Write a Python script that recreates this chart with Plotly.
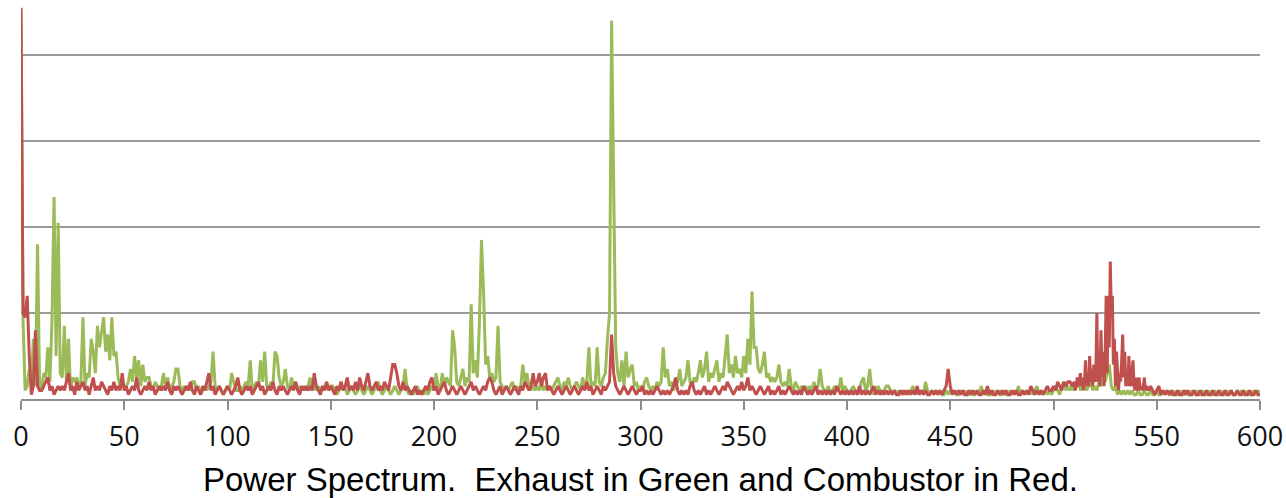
import plotly.graph_objects as go

# Exhaust power spectrum, one value per Hz from 0 to 600 (grid line = 20 units)
exhaust_000 = [
    90, 18, 2, 3, 7, 4, 14, 3, 36, 3,
    2, 6, 5, 12, 4, 18, 47, 10, 41, 6,
    5, 17, 4, 14, 2, 5, 4, 5, 3, 4,
    19, 3, 6, 5, 14, 11, 6, 17, 12, 16,
    19, 11, 15, 9, 19, 10, 11, 5, 3, 4,
    2, 3, 4, 7, 4, 10, 5, 9, 3, 8,
    4, 5, 5, 3, 2, 4, 3, 2, 3, 6,
    3, 5, 2, 3, 4, 7, 7, 3, 2, 3,
    2, 3, 2, 4, 4, 2, 3, 1, 2, 3,
    2, 3, 4, 11, 3, 2, 3, 2, 1, 2,
]
exhaust_100 = [
    3, 2, 6, 4, 2, 2, 3, 2, 3, 4,
    3, 9, 2, 3, 4, 3, 9, 4, 11, 3,
    2, 4, 3, 11, 10, 5, 3, 4, 7, 3,
    2, 5, 3, 4, 2, 3, 2, 3, 2, 3,
    5, 2, 3, 2, 3, 2, 3, 2, 4, 2,
    3, 3, 2, 1, 2, 4, 2, 3, 1, 2,
    3, 2, 1, 2, 3, 2, 1, 2, 3, 2,
    1, 2, 3, 4, 2, 1, 2, 3, 2, 1,
    2, 3, 2, 1, 2, 3, 7, 2, 1, 2,
    1, 2, 3, 1, 2, 1, 2, 1, 2, 3,
]
exhaust_200 = [
    2, 6, 3, 2, 6, 3, 5, 4, 3, 16,
    12, 4, 3, 5, 7, 3, 5, 4, 22, 6,
    9, 5, 18, 37, 25, 8, 10, 5, 6, 4,
    5, 17, 4, 3, 2, 3, 2, 3, 4, 2,
    3, 2, 3, 8, 4, 6, 3, 2, 3, 2,
    3, 2, 4, 2, 3, 2, 3, 2, 3, 4,
    5, 3, 2, 4, 3, 5, 3, 2, 3, 4,
    3, 2, 5, 3, 4, 12, 3, 4, 3, 12,
    4, 3, 5, 6, 14, 20, 88, 49, 12, 6,
    4, 9, 3, 11, 5, 7, 8, 3, 4, 2,
]
exhaust_300 = [
    3, 2, 4, 5, 3, 2, 3, 2, 4, 3,
    4, 12, 5, 7, 3, 4, 2, 3, 4, 7,
    3, 4, 5, 9, 4, 3, 5, 4, 6, 9,
    5, 7, 11, 4, 6, 5, 7, 9, 4, 6,
    5, 11, 15, 6, 8, 5, 10, 6, 7, 5,
    10, 6, 14, 8, 25, 12, 12, 7, 6, 8,
    11, 5, 6, 4, 5, 4, 5, 8, 4, 3,
    4, 3, 7, 3, 2, 4, 3, 2, 3, 2,
    3, 2, 3, 2, 4, 2, 3, 7, 3, 2,
    2, 3, 1, 2, 3, 2, 2, 5, 2, 3,
]
exhaust_400 = [
    2, 1, 2, 3, 2, 1, 2, 4, 5, 2,
    3, 7, 2, 1, 2, 3, 2, 1, 2, 3,
    3, 2, 1, 2, 1, 2, 1, 2, 1, 2,
    1, 2, 3, 1, 2, 1, 2, 1, 4, 2,
    1, 2, 1, 2, 1, 2, 1, 1, 2, 1,
    2, 1, 2, 1, 1, 2, 1, 2, 1, 1,
    2, 1, 1, 2, 1, 3, 1, 2, 1, 1,
    1, 2, 1, 2, 1, 1, 2, 1, 1, 2,
    1, 2, 1, 3, 1, 2, 1, 2, 1, 2,
    1, 2, 3, 1, 2, 1, 2, 1, 2, 1,
]
exhaust_500 = [
    2, 3, 2, 1, 3, 4, 2, 3, 2, 3,
    2, 3, 4, 2, 3, 4, 2, 3, 4, 2,
    3, 2, 4, 3, 5, 4, 6, 8, 3, 2,
    3, 1, 2, 1, 2, 1, 2, 1, 2, 1,
    1, 2, 1, 1, 2, 1, 1, 2, 1, 1,
    2, 1, 1, 2, 1, 2, 1, 1, 2, 1,
    1, 2, 1, 1, 2, 1, 1, 2, 1, 2,
    1, 1, 2, 1, 1, 2, 1, 1, 2, 1,
    1, 2, 1, 1, 2, 1, 2, 1, 1, 2,
    1, 2, 1, 1, 2, 1, 1, 2, 1, 2,
    1,
]

# Combustor power spectrum: 1 Hz steps, with 0.5 Hz steps through the 510-545 Hz band
combustor_000 = [
    91, 20, 19, 24, 10, 1, 3, 16, 3, 2,
    2, 3, 4, 5, 2, 3, 1, 2, 3, 2,
    3, 2, 4, 6, 2, 3, 1, 4, 2, 3,
    4, 2, 3, 1, 3, 5, 2, 3, 2, 4,
    3, 2, 1, 3, 2, 4, 2, 3, 2, 6,
    2, 3, 1, 2, 3, 2, 5, 2, 1, 2,
    3, 2, 4, 2, 3, 1, 2, 3, 2, 3,
    2, 4, 2, 1, 3, 2, 3, 2, 1, 2,
    3, 2, 4, 2, 1, 3, 2, 1, 3, 2,
    4, 6, 2, 3, 1, 2, 3, 2, 1, 2,
]
combustor_100 = [
    3, 2, 1, 2, 3, 5, 2, 1, 2, 3,
    2, 3, 1, 2, 3, 4, 2, 3, 1, 2,
    3, 2, 4, 2, 1, 3, 2, 3, 2, 1,
    2, 3, 2, 4, 2, 1, 3, 2, 3, 2,
    3, 2, 6, 3, 2, 1, 3, 2, 4, 2,
    3, 2, 1, 3, 2, 4, 2, 3, 5, 2,
    3, 2, 4, 2, 5, 3, 2, 4, 6, 3,
    2, 3, 4, 2, 3, 2, 4, 3, 2, 5,
    8, 8, 6, 3, 2, 4, 2, 3, 2, 1,
    2, 3, 1, 2, 1, 2, 3, 2, 4, 5,
]
combustor_200 = [
    2, 3, 1, 2, 3, 4, 2, 1, 2, 3,
    2, 1, 2, 3, 2, 1, 2, 3, 4, 2,
    3, 2, 1, 2, 3, 2, 4, 5, 4, 2,
    1, 2, 3, 1, 2, 3, 2, 1, 2, 3,
    2, 1, 3, 2, 4, 3, 2, 3, 6, 3,
    4, 6, 3, 5, 6, 2, 3, 2, 1, 2,
    3, 2, 1, 2, 3, 2, 1, 2, 3, 2,
    1, 2, 3, 2, 4, 2, 3, 1, 2, 3,
    2, 1, 3, 2, 3, 4, 15, 6, 3, 2,
    1, 2, 3, 2, 1, 2, 3, 2, 1, 2,
]
combustor_300 = [
    2, 3, 1, 2, 1, 2, 1, 2, 3, 2,
    1, 2, 1, 2, 1, 2, 3, 5, 2, 1,
    2, 1, 2, 1, 3, 4, 2, 1, 2, 1,
    2, 3, 1, 2, 1, 2, 3, 2, 1, 2,
    3, 2, 4, 3, 2, 1, 2, 3, 2, 4,
    2, 3, 5, 2, 3, 2, 1, 2, 3, 2,
    1, 2, 3, 1, 2, 1, 2, 3, 1, 2,
    1, 2, 3, 2, 1, 2, 1, 2, 1, 3,
    2, 1, 2, 1, 2, 3, 1, 2, 1, 2,
    1, 2, 1, 2, 1, 3, 2, 1, 2, 1,
]
combustor_400 = [
    2, 1, 2, 1, 2, 1, 3, 1, 2, 1,
    2, 1, 2, 3, 1, 2, 1, 2, 1, 2,
    1, 2, 1, 2, 1, 1, 2, 1, 2, 1,
    2, 1, 2, 1, 3, 1, 2, 1, 2, 1,
    1, 2, 1, 2, 1, 2, 1, 2, 3, 7,
    3, 1, 2, 1, 2, 1, 2, 1, 1, 2,
    1, 2, 1, 2, 1, 1, 2, 1, 3, 1,
    2, 1, 1, 2, 1, 2, 1, 2, 1, 1,
    2, 1, 2, 1, 1, 2, 1, 2, 1, 3,
    2, 1, 2, 1, 2, 1, 2, 3, 2, 2,
]
combustor_500 = [3, 2, 4, 3, 2, 4, 3, 4, 4, 3]
combustor_band = [
    4, 2, 3, 5, 3, 4, 6, 3, 5, 2,
    4, 9, 3, 6, 3, 10, 4, 7, 3, 8,
    4, 6, 20, 4, 8, 3, 16, 5, 11, 3,
    10, 24, 6, 24, 12, 32, 20, 24, 8, 14,
    3, 11, 7, 2, 6, 4, 9, 15, 5, 11,
    3, 6, 3, 10, 4, 3, 6, 9, 3, 2,
    5, 2, 3, 5, 2, 3, 2, 3, 5, 2,
    3,
]
combustor_546 = [
    2, 3, 2, 1,
    2, 3, 1, 2, 1, 2, 1, 2, 1, 1,
    2, 1, 1, 2, 1, 2, 1, 1, 2, 1,
    1, 2, 1, 1, 2, 1, 1, 2, 1, 1,
    2, 1, 1, 2, 1, 1, 2, 1, 1, 2,
    1, 1, 2, 1, 1, 2, 1, 1, 2, 1, 1,
]

exhaust = exhaust_000 + exhaust_100 + exhaust_200 + exhaust_300 + exhaust_400 + exhaust_500
exhaust_hz = list(range(len(exhaust)))

combustor = (combustor_000 + combustor_100 + combustor_200 + combustor_300
             + combustor_400 + combustor_500 + combustor_band + combustor_546)
combustor_hz = (list(range(0, 510))
                + [510 + 0.5 * k for k in range(len(combustor_band))]
                + list(range(546, 546 + len(combustor_546))))

x_ticks = [0, 50, 100, 150, 200, 250, 300, 350, 400, 450, 500, 550, 600]

fig = go.Figure()
fig.add_trace(go.Scatter(x=exhaust_hz, y=exhaust, mode="lines",
                         line=dict(color="#9BBB59", width=3), name="Exhaust"))
fig.add_trace(go.Scatter(x=combustor_hz, y=combustor, mode="lines",
                         line=dict(color="#C0504D", width=3), name="Combustor"))

fig.update_layout(
    width=1286, height=498,
    margin=dict(l=21, r=26, t=0, b=99),
    paper_bgcolor="white", plot_bgcolor="white",
    showlegend=False,
    xaxis=dict(range=[0, 600], tickvals=x_ticks, ticks="outside", ticklen=9,
               tickcolor="#8c8c8c", tickwidth=1.5, showline=True,
               linecolor="#8c8c8c", linewidth=1.5, showgrid=False, zeroline=False,
               ticklabelstandoff=4,
               tickfont=dict(family="Open Sans", size=27, color="#111111")),
    yaxis=dict(range=[0, 92.8], tick0=0, dtick=20, showticklabels=False,
               showgrid=True, gridcolor="#9a9a9a", gridwidth=1.5, zeroline=False),
    annotations=[dict(text="Power Spectrum.\u00a0 Exhaust in Green and Combustor in Red.",
                      xref="paper", yref="paper", x=0.5, y=0, yshift=-60,
                      xanchor="center", yanchor="top", showarrow=False,
                      font=dict(family="Liberation Sans, Arial", size=33, color="#000000"))],
)

fig.write_html("out.html")
